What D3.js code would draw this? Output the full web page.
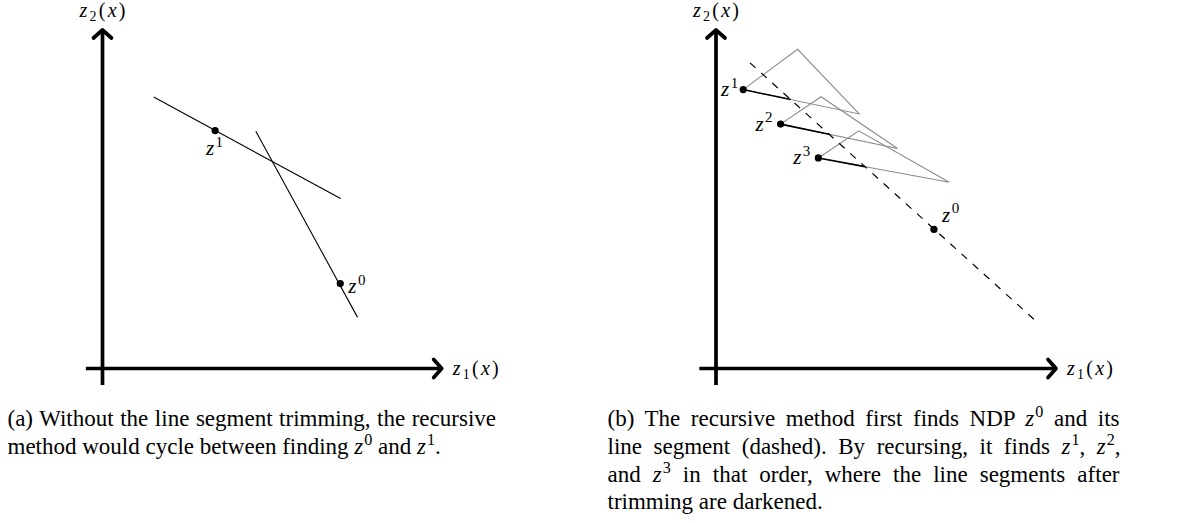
<!DOCTYPE html>
<html>
<head>
<meta charset="utf-8">
<script src="https://cdn.jsdelivr.net/npm/d3@7"></script>
<style>
  html, body { margin: 0; padding: 0; background: #fff; }
  svg { display: block; }
  text { font-family: "Liberation Serif", "Times New Roman", serif; fill: #000; }
</style>
</head>
<body>
<svg id="fig" width="1197" height="523"></svg>
<script>
// ---- Panel (a): two line segments that keep intersecting each other ----
const aSegmentOne = [[1.51, 8.02], [7.02, 5.02]];
const aSegmentTwo = [[4.52, 7.01], [7.52, 1.51]];
const aPointNames = ["0", "1"];
const aPointX = [7.01, 3.32];
const aPointY = [2.51, 7.03];

// ---- Panel (b): dashed segment of z^0, then the recursion z^1, z^2, z^3 ----
const bDashed = [[1.0, 9.03], [9.51, 1.31]];
const bRootName = "0";
const bRootX = 6.41;
const bRootY = 4.11;
const bPointNames = ["1", "2", "3"];
const bPointX = [0.80, 1.90, 3.01];
const bPointY = [8.24, 7.22, 6.22];
const bApexX = [2.40, 3.09, 4.20];
const bApexY = [9.43, 8.03, 7.02];
const bCornerX = [4.21, 5.34, 6.86];
const bCornerY = [7.52, 6.50, 5.50];

// axis extent in data units
const axisMin = -0.49;
const axisMax = 10;

const svg = d3.select("#fig");

function makePanel(left, right) {
  const x = d3.scaleLinear().domain([0, 10]).range([left, right]);
  const y = d3.scaleLinear().domain([0, 10]).range([368.5, 30]);
  return { x, y, g: svg.append("g") };
}

const line = d3.line();

function axisLabel(g, x, y, sub, anchor) {
  const t = g.append("text").attr("x", x).attr("y", y).attr("font-size", 20)
    .attr("text-anchor", anchor).attr("textLength", 46).attr("lengthAdjust", "spacing");
  t.append("tspan").attr("font-style", "italic").text("z");
  t.append("tspan").attr("font-size", 14).attr("dy", 4).text(sub);
  t.append("tspan").attr("dy", -4).text("(");
  t.append("tspan").attr("font-style", "italic").text("x");
  t.append("tspan").text(")");
}

function drawAxes(p) {
  const { x, y, g } = p;
  const ax = g.append("g").attr("stroke", "#000").attr("stroke-width", 3.7)
    .attr("fill", "none").attr("stroke-linecap", "round").attr("stroke-linejoin", "round");
  // horizontal axis
  ax.append("path").attr("stroke-linecap", "butt")
    .attr("d", line([[x(axisMin), y(0)], [x(axisMax), y(0)]]));
  ax.append("path")
    .attr("d", line([[x(axisMax) - 8, y(0) - 9], [x(axisMax), y(0)], [x(axisMax) - 8, y(0) + 9]]));
  // vertical axis
  ax.append("path").attr("stroke-linecap", "butt")
    .attr("d", line([[x(0), y(axisMin)], [x(0), y(axisMax)]]));
  ax.append("path")
    .attr("d", line([[x(0) - 9, y(axisMax) + 8], [x(0), y(axisMax)], [x(0) + 9, y(axisMax) + 8]]));

  axisLabel(g, x(axisMax) + 11, y(0) + 6, "1", "start");
  axisLabel(g, x(0), 17, "2", "middle");
}

function pointLabel(g, px, py, name, anchor) {
  const t = g.append("text").attr("x", px).attr("y", py).attr("font-size", 21)
    .attr("text-anchor", anchor);
  t.append("tspan").attr("font-style", "italic").text("z");
  t.append("tspan").attr("font-size", 15).attr("dy", -8.5).attr("dx", 1.5).text(name);
}

function dot(g, cx, cy) {
  g.append("circle").attr("cx", cx).attr("cy", cy).attr("r", 3.6).attr("fill", "#000");
}

// ---------- Panel (a) ----------
const pa = makePanel(102.5, 441.7);
drawAxes(pa);
[aSegmentOne, aSegmentTwo].forEach(seg => {
  pa.g.append("path").attr("fill", "none").attr("stroke", "#000").attr("stroke-width", 1.1)
    .attr("d", line(seg.map(d => [pa.x(d[0]), pa.y(d[1])])));
});
// label placement: z^0 sits to the right of its point, z^1 below
const aPlacement = { "0": { dx: 8, dy: 9.5, anchor: "start" }, "1": { dx: 8, dy: 24.5, anchor: "end" } };
aPointNames.forEach((n, i) => {
  const cx = pa.x(aPointX[i]), cy = pa.y(aPointY[i]);
  dot(pa.g, cx, cy);
  const pl = aPlacement[n];
  pointLabel(pa.g, cx + pl.dx, cy + pl.dy, n, pl.anchor);
});

// ---------- Panel (b) ----------
const pb = makePanel(716, 1056);
drawAxes(pb);

// where the segment from p towards q crosses the dashed segment
function crossDashed(p, q) {
  const [a, b] = bDashed;
  const r = [q[0] - p[0], q[1] - p[1]];
  const s = [b[0] - a[0], b[1] - a[1]];
  const den = r[0] * s[1] - r[1] * s[0];
  const t = ((a[0] - p[0]) * s[1] - (a[1] - p[1]) * s[0]) / den;
  return [p[0] + t * r[0], p[1] + t * r[1]];
}

// gray cones
bPointNames.forEach((n, i) => {
  const pts = [[bPointX[i], bPointY[i]], [bApexX[i], bApexY[i]], [bCornerX[i], bCornerY[i]]];
  pb.g.append("path").attr("fill", "none").attr("stroke", "#8a8a8a").attr("stroke-width", 1.1)
    .attr("stroke-linejoin", "miter")
    .attr("d", line(pts.map(d => [pb.x(d[0]), pb.y(d[1])])) + "Z");
});

// dashed segment of z^0
pb.g.append("path").attr("fill", "none").attr("stroke", "#000").attr("stroke-width", 1.2)
  .attr("stroke-dasharray", "7.5,7.5")
  .attr("d", line(bDashed.map(d => [pb.x(d[0]), pb.y(d[1])])));

// trimmed (darkened) segments
bPointNames.forEach((n, i) => {
  const p = [bPointX[i], bPointY[i]];
  const end = crossDashed(p, [bCornerX[i], bCornerY[i]]);
  pb.g.append("path").attr("fill", "none").attr("stroke", "#000").attr("stroke-width", 1.6)
    .attr("d", line([p, end].map(d => [pb.x(d[0]), pb.y(d[1])])));
});

// points and labels
const bPlacement = { "1": -5, "2": -8, "3": -8 };
bPointNames.forEach((n, i) => {
  const cx = pb.x(bPointX[i]), cy = pb.y(bPointY[i]);
  dot(pb.g, cx, cy);
  pointLabel(pb.g, cx + bPlacement[n], cy + 6.5, n, "end");
});
{
  const cx = pb.x(bRootX), cy = pb.y(bRootY);
  dot(pb.g, cx, cy);
  pointLabel(pb.g, cx + 8, cy - 7.5, bRootName, "start");
}

// ---------- Captions ----------
const capA = [
  { parts: [["(a) Without the line segment trimming, the recursive"]], justify: true },
  { parts: [["method would cycle between finding "], ["z", "i"], ["0", "s"], [" and "], ["z", "i"], ["1", "s"], ["."]], justify: false }
];
const capB = [
  { parts: [["(b) The recursive method first finds NDP "], ["z", "i"], ["0", "s"], [" and its"]], justify: true },
  { parts: [["line segment (dashed). By recursing, it finds "], ["z", "i"], ["1", "s"], [", "], ["z", "i"], ["2", "s"], [","]], justify: true },
  { parts: [["and "], ["z", "i"], ["3", "s"], [" in that order, where the line segments after"]], justify: true },
  { parts: [["trimming are darkened."]], justify: false }
];

function caption(lines, left, right) {
  const top = 426, lead = 27.8, fs = 23;
  lines.forEach((ln, k) => {
    const t = svg.append("text").attr("x", left).attr("y", top + k * lead).attr("font-size", fs)
      .attr("xml:space", "preserve").style("white-space", "pre");
    let shifted = false;
    ln.parts.forEach(([s, kind]) => {
      const ts = t.append("tspan").text(s);
      if (kind === "i") ts.attr("font-style", "italic");
      if (kind === "s") { ts.attr("font-size", fs * 0.7).attr("dy", -9).attr("dx", 1); shifted = true; }
      else if (shifted) { ts.attr("dy", 9); shifted = false; }
    });
    if (ln.justify) {
      const natural = t.node().getComputedTextLength();
      const spaces = ln.parts.map(p => p[0]).join("").split(" ").length - 1;
      t.style("word-spacing", ((right - left - natural) / spaces) + "px");
    }
  });
}
caption(capA, 7.5, 496);
caption(capB, 607.5, 1118.5);
</script>
</body>
</html>
